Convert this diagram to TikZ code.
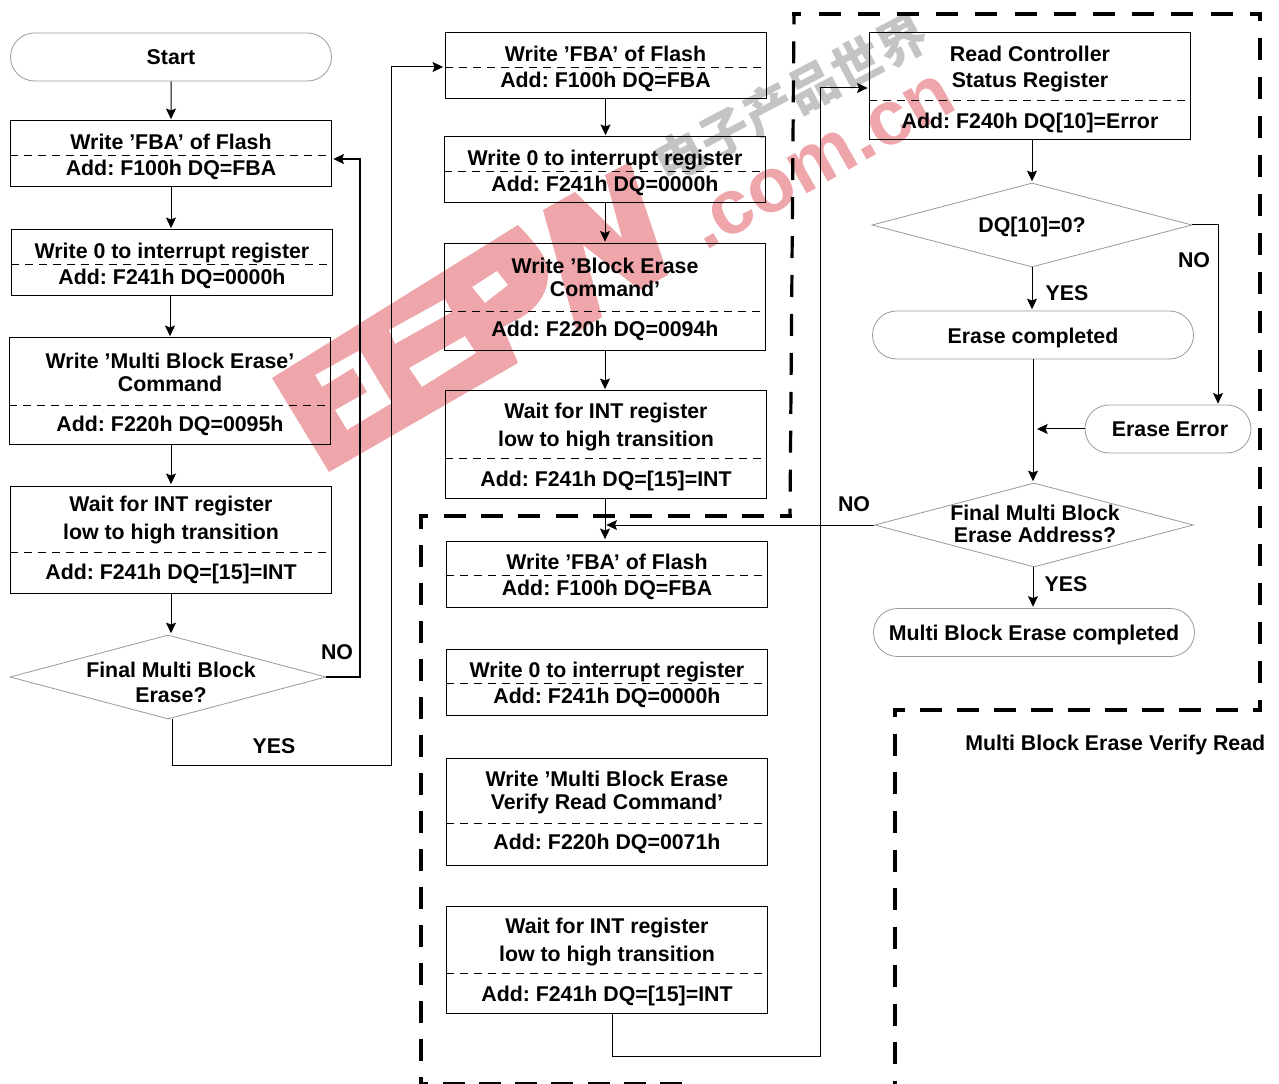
\documentclass[tikz,border=0pt]{standalone}
\usepackage{fontspec}
\setmainfont{Liberation Sans}
\newfontfamily\cjk{Noto Sans CJK SC}
\usetikzlibrary{positioning, arrows.meta, shapes.geometric, shapes.misc}
\definecolor{wmpink}{HTML}{EEA6AB}
\definecolor{wmgray}{HTML}{C4C4C4}
\definecolor{outline}{HTML}{999999}
\frenchspacing
\newcommand{\lift}{\rule{0pt}{15.5pt}}

\begin{document}
\begin{tikzpicture}[x=.75pt,y=-.75pt,
  every node/.style={font=\fontsize{16}{18.75}\selectfont\bfseries, align=center, inner sep=0pt},
  box/.style={draw=black, line width=.75pt, rectangle, minimum width=240.75pt},
  short/.style={box, minimum height=49.5pt},
  tall/.style={box, minimum height=80.25pt},
  pill/.style={draw=outline, line width=.6pt, rounded rectangle, minimum height=36pt},
  decide/.style={draw=outline, line width=.6pt, diamond, minimum width=240pt, minimum height=63pt},
  split/.style={dash pattern=on 6pt off 4.5pt, line width=.6pt},
  flow/.style={line width=.75pt, -{Stealth[length=8pt, width=7.5pt, inset=1.5pt]}, shorten >=1pt},
  region/.style={line width=2.4pt, dash pattern=on 16.5pt off #1pt, dash phase=9.75pt, shorten <=-1.2pt, shorten >=-1.2pt}]
  \useasboundingbox (0,0) rectangle (1279,1084);

  % dashed regions
  \draw[region=10.7] (421,1084) -- (688,1084);
  \draw[region=12] (421,1084) -- (421,516);
  \draw[region=11.5] (421,516) -- (790,516);
  \draw[region=12.7] (790,516) -- (794,14);
  \draw[region=12.9] (794,14) -- (1260,14);
  \draw[region=12.7] (1260,14) -- (1260,710);
  \draw[region=11.2] (1260,710) -- (895,710);
  \draw[region=12.4] (895,710) -- (895,1084);

  % left column
  \node[pill, minimum width=240.75pt] (a1) at (171,57) {Start};
  \node[short] (a2) at (171,154) {\lift Write ’FBA’ of Flash\\[.75pt]Add: F100h DQ=FBA};
  \node[short] (a3) at (172,263) {\lift Write 0 to interrupt register\\[.75pt]Add: F241h DQ=0000h};
  \node[tall] (a4) at (170,391.5) {\lift Write ’Multi Block Erase’\\[-1.5pt]Command\\[11.25pt]Add: F220h DQ=0095h};
  \node[tall] (a5) at (171,539.5) {Wait for INT register\\[2.25pt]low to high transition\\[11.25pt]Add: F241h DQ=[15]=INT};
  \node[decide, minimum width=237pt] (a6) at (168,677) {};
  \node (a6t) at (171,682) {Final Multi Block\\Erase?};

  % middle column
  \node[short] (b1) at (605.5,66) {\lift Write ’FBA’ of Flash\\[.75pt]Add: F100h DQ=FBA};
  \node[short] (b2) at (605,170) {\lift Write 0 to interrupt register\\[.75pt]Add: F241h DQ=0000h};
  \node[tall] (b3) at (605,297) {\lift Write ’Block Erase\\[-1.5pt]Command’\\[11.25pt]Add: F220h DQ=0094h};
  \node[tall] (b4) at (606,444.5) {\lift Wait for INT register\\[2.25pt]low to high transition\\[11.25pt]Add: F241h DQ=[15]=INT};

  % lower column
  \node[short] (c1) at (607,574) {\lift Write ’FBA’ of Flash\\[.75pt]Add: F100h DQ=FBA};
  \node[short] (c2) at (607,682) {\lift Write 0 to interrupt register\\[.75pt]Add: F241h DQ=0000h};
  \node[tall] (c3) at (607,812) {Write ’Multi Block Erase\\[-1.5pt]Verify Read Command’\\[11.25pt]Add: F220h DQ=0071h};
  \node[tall] (c4) at (607,959.5) {\lift Wait for INT register\\[2.25pt]low to high transition\\[11.25pt]Add: F241h DQ=[15]=INT};

  % right column
  \node[tall] (d1) at (1030,86.5) {\lift Read Controller\\[.75pt]Status Register\\[12pt]Add: F240h DQ[10]=Error};
  \node[decide] (d2) at (1032,225) {};
  \node (d2t) at (1032,227) {DQ[10]=0?};
  \node[pill, minimum width=240.75pt] (d3) at (1033,335) {\lift Erase completed};
  \node[pill, minimum width=124.5pt] (d4) at (1168,429) {\hspace*{3pt}Erase Error};
  \node[decide, minimum width=239pt] (d5) at (1034,525) {};
  \node[font=\fontsize{16}{16}\selectfont\bfseries] (d5t) at (1035,524) {Final Multi Block\\[.5pt]Erase Address?};
  \node[pill, minimum width=240.75pt] (d6) at (1034,632.5) {\lift Multi Block Erase completed};

  % labels
  \node (noa) at (337,652) {NO};
  \node (yesa) at (274,746) {YES};
  \node (nod) at (1194,260) {NO};
  \node (yesd) at (1067,293) {YES};
  \node (nof) at (854,504) {NO};
  \node (yesf) at (1066,584) {YES};
  \node[anchor=west] (verify) at (965,745) {Multi Block Erase Verify Read};

  % dividers
  \draw[split] (a2.west |- 0,155) -- (a2.east |- 0,155);
  \draw[split] (a3.west |- 0,264) -- (a3.east |- 0,264);
  \draw[split] (a4.west |- 0,405) -- (a4.east |- 0,405);
  \draw[split] (a5.west |- 0,552) -- (a5.east |- 0,552);
  \draw[split] (b1.west |- 0,67) -- (b1.east |- 0,67);
  \draw[split] (b2.west |- 0,171) -- (b2.east |- 0,171);
  \draw[split] (b3.west |- 0,311) -- (b3.east |- 0,311);
  \draw[split] (b4.west |- 0,458) -- (b4.east |- 0,458);
  \draw[split] (c1.west |- 0,575) -- (c1.east |- 0,575);
  \draw[split] (c2.west |- 0,683) -- (c2.east |- 0,683);
  \draw[split] (c3.west |- 0,823) -- (c3.east |- 0,823);
  \draw[split] (c4.west |- 0,973) -- (c4.east |- 0,973);
  \draw[split] (d1.west |- 0,100) -- (d1.east |- 0,100);

  % connectors
  \draw[flow] (a1) -- (a2);
  \draw[flow] (a2) -- (a3.north -| a2.south);
  \draw[flow] (a3.south -| a4.north) -- (a4.north);
  \draw[flow] (a4.south -| a5.north) -- (a5.north);
  \draw[flow] (a5.south) -- (a5.south |- a6.north);
  \draw[flow, line width=1.5pt] (a6.east) -- (360,677) -- (360,159) -- (a2.east |- 0,159);
  \draw[flow] (a6.south -| 172,0) -- (172,765) -- (391,765) -- (391,67) -- (b1.west |- 0,67);
  \draw[flow] (b1.south) -- (b1.south |- b2.north);
  \draw[flow] (b2.south) -- (b2.south |- b3.north);
  \draw[flow] (b3.south) -- (b3.south |- b4.north);
  \draw[flow] (b3.south |- b4.south) -- (b3.south |- c1.north);
  \draw[flow, shorten >=1pt] (d5.west) -- (b3.south |- d5.west);
  \draw[flow] (612,1013) -- (612,1056) -- (820,1056) -- (820,88) -- (d1.west |- 0,88);
  \draw[flow] (d1.south -| d2.north) -- (d2.north);
  \draw[flow] (d2.south) -- (d3.north -| d2.south);
  \draw[flow] (d2.east) -- (1218,225) -- (1218,405);
  \draw[flow] (d3.south) -- (d3.south |- d5.north);
  \draw[flow, shorten >=3pt] (d4.west) -- (d3.south |- d4.west);
  \draw[flow] (d5.south -| d3.south) -- (d3.south |- d6.north);

  % watermark
  \begin{scope}[blend mode=multiply]
    \fill[wmpink, even odd rule] (272,378) -- (518,225) .. controls (537,245) and (550,260) .. (548,277)
      .. controls (547,295) and (535,310) .. (520,318) -- (503,327) -- (518,363) -- (329,472) -- cycle
      (315,375) -- (360,350) -- (392,403) -- (347,430) -- (335,410) -- (367,392) -- (353,368) -- (322,387) -- cycle
      (389,330) -- (445,299) -- (452,312) -- (395,344) -- cycle
      (409,368) -- (465,336) -- (476,353) -- (422,387) -- cycle
      (472,287) -- (497,271) -- (508,285) -- (485,303) -- cycle;
    \fill[wmpink] (543,210) -- (575,192) -- (622,238) -- (605,175) -- (630,162) -- (668,275)
      -- (640,290) -- (583,245) -- (602,317) -- (577,332) -- cycle;
    \node[rotate=29.5, anchor=base west, text=wmpink, font=\fontsize{58}{58}\selectfont\bfseries] (wmcom) at (705,252) {.com.cn};
    \node[rotate=27.7, text=wmgray, font=\fontsize{37.5}{37.5}\selectfont\cjk\bfseries] (wmname) at (791,98) {电子产品世界};
  \end{scope}
\end{tikzpicture}
\end{document}
